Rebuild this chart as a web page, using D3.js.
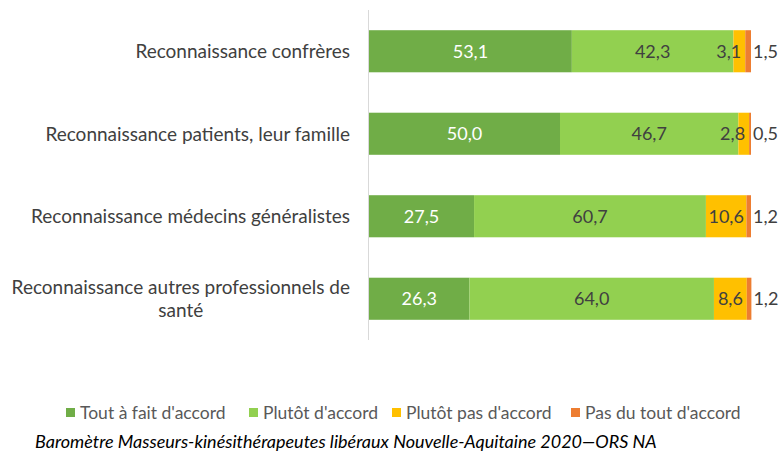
<!DOCTYPE html>
<html>
<head>
<meta charset="utf-8">
<script src="https://cdn.jsdelivr.net/npm/d3@7"></script>
<style>
  body { margin: 0; background: #fff; }
  svg { font-family: Lato, "Open Sans", sans-serif; }
</style>
</head>
<body>
<svg id="chart" width="781" height="452"></svg>
<script>
// data
const categories = [
    "Reconnaissance confrères",
    "Reconnaissance patients, leur famille",
    "Reconnaissance médecins généralistes",
    "Reconnaissance autres professionnels de santé"
];
const seriesNames = ["Tout à fait d'accord", "Plutôt d'accord", "Plutôt pas d'accord", "Pas du tout d'accord"];
const toutAFait = [53.1, 50.0, 27.5, 26.3];
const plutot = [42.3, 46.7, 60.7, 64.0];
const plutotPas = [3.1, 2.8, 10.6, 8.6];
const pasDuTout = [1.5, 0.5, 1.2, 1.2];
const colors = ["#70ad47", "#92d050", "#ffc000", "#ed7d31"];

const svg = d3.select("#chart");
const margin = {top: 10, left: 369, right: 30, bottom: 112};

let rows = categories.map((c, i) => ({
    cat: c,
    v: [toutAFait[i], plutot[i], plutotPas[i], pasDuTout[i]]
}));

let x = d3.scaleLinear().domain([0, 100]).range([margin.left, 751]);
let y = d3.scaleBand().domain(categories).range([margin.top, 340]).paddingInner(0.49).paddingOuter(0.245);

// stack the segments
rows.forEach(r => {
    let acc = 0;
    r.segs = r.v.map((val, k) => {
        let s = {cat: r.cat, k: k, val: val, x0: acc, x1: acc + val};
        acc += val;
        return s;
    });
});
let segs = rows.flatMap(r => r.segs);

svg.append("g").selectAll("rect")
    .data(segs)
    .enter().append("rect")
    .attr("x", d => x(d.x0))
    .attr("y", d => y(d.cat))
    .attr("width", d => x(d.x1) - x(d.x0))
    .attr("height", y.bandwidth())
    .attr("fill", d => colors[d.k]);

// vertical axis line
svg.append("line")
    .attr("x1", x(0) - 0.5).attr("x2", x(0) - 0.5)
    .attr("y1", margin.top).attr("y2", 340)
    .attr("stroke", "#d9d9d9").attr("stroke-width", 1);

// value labels
let vals = svg.append("g").selectAll("text")
    .data(segs)
    .enter().append("text")
    .attr("x", d => d.k === 3 ? x(d.x1) + 2 : x((d.x0 + d.x1) / 2))
    .attr("y", d => y(d.cat) + y.bandwidth() / 2)
    .attr("dy", "0.36em")
    .attr("text-anchor", d => d.k === 3 ? "start" : "middle")
    .attr("font-size", 18)
    .attr("fill", d => d.k === 0 ? "#ffffff" : "#404040")
    .text(d => d.val.toFixed(1).replace(".", ","));

// labels too wide for their segment are pushed left, like Excel does
vals.filter(d => d.k === 2).each(function (d) {
    let w = this.getComputedTextLength();
    if (w > x(d.x1) - x(d.x0)) {
        d3.select(this).attr("text-anchor", "end").attr("x", x(d.x1) - 4);
    }
});

// category labels (the long one wraps on two lines)
let catG = svg.append("g");
rows.forEach(r => {
    let lines = r.cat === categories[3]
        ? ["Reconnaissance autres professionnels de", "santé"]
        : [r.cat];
    let cy = y(r.cat) + y.bandwidth() / 2;
    let t = catG.append("text")
        .attr("font-size", 19)
        .attr("fill", "#404040")
        .attr("text-anchor", "middle");
    lines.forEach((l, i) => {
        t.append("tspan")
            .attr("x", 0)
            .attr("y", cy + (i - (lines.length - 1) / 2) * 23)
            .attr("dy", "0.36em")
            .text(l);
    });
    let bw = t.node().getBBox().width;
    t.selectAll("tspan").attr("x", 350 - bw / 2);
});

// legend
let legX = [66, 249, 392, 571];
let leg = svg.append("g");
seriesNames.forEach((n, i) => {
    leg.append("rect")
        .attr("x", legX[i]).attr("y", 408)
        .attr("width", 9).attr("height", 9)
        .attr("fill", colors[i]);
    leg.append("text")
        .attr("x", legX[i] + 14).attr("y", 412.5)
        .attr("dy", "0.36em")
        .attr("font-size", 17.5)
        .attr("fill", "#595959")
        .text(n);
});

// source note
svg.append("text")
    .attr("x", 35).attr("y", 442)
    .attr("dy", "0.36em")
    .attr("font-size", 18)
    .attr("font-style", "italic")
    .attr("fill", "#000")
    .text("Baromètre Masseurs-kinésithérapeutes libéraux Nouvelle-Aquitaine 2020\u2014ORS NA");
</script>
</body>
</html>
